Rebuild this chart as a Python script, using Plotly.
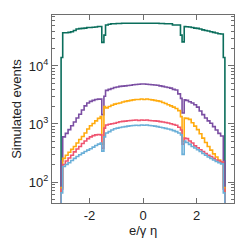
import plotly.graph_objects as go

# Bin edges in e/gamma eta
eta_edges = [-3.06, -3.0, -2.9, -2.8, -2.7, -2.6, -2.5, -2.4, -2.3, -2.2, -2.1, -2.0,
             -1.9, -1.8, -1.7, -1.6, -1.54, -1.46, -1.4, -1.3, -1.2, -1.1, -1.0, -0.9,
             -0.8, -0.7, -0.6, -0.5, -0.4, -0.3, -0.2, -0.1, 0.0, 0.1, 0.2, 0.3, 0.4,
             0.5, 0.6, 0.7, 0.8, 0.9, 1.0, 1.1, 1.2, 1.3, 1.4, 1.46, 1.54, 1.6, 1.7,
             1.8, 1.9, 2.0, 2.1, 2.2, 2.3, 2.4, 2.5, 2.6, 2.7, 2.8, 2.9, 3.0, 3.06]

green = [14000,
         37500, 37500, 38000, 39000, 41000, 43500, 44000, 44500, 45000, 46000, 46000, 46500, 47000, 48000,
         48000, 25500, 34000,
         51000, 52500, 53500, 53500, 54000, 54000, 54500, 54500, 54500, 54500, 54500, 54500, 54500, 54500,
         54500, 54500, 54500, 54500, 54500, 54500, 54000, 54000, 53500, 53500, 53500, 51000, 51000, 51000,
         34000, 26000, 48000,
         47500, 47000, 46000, 45000, 44500, 43500, 42000, 41000, 40000, 39000, 38000, 37000, 36000, 35500,
         14000]

purple = [230,
          600, 690, 800, 930, 1080, 1270, 1470, 1740, 2050, 2300, 2450, 2550, 2650, 2680,
          2700, 1450, 3000,
          3800, 3950, 4100, 4250, 4350, 4450, 4500, 4550, 4600, 4650, 4750, 4800, 4850, 4900,
          4900, 4850, 4800, 4750, 4700, 4650, 4550, 4450, 4350, 4250, 4150, 3950, 3850, 3300,
          2770, 1550, 2600,
          2550, 2420, 2300, 2150, 1950, 1680, 1450, 1270, 1130, 1030, 900, 790, 690, 620,
          230]

orange = [80,
          255, 290, 325, 365, 410, 470, 540, 610, 700, 820, 930, 1020, 1130, 1250,
          1340, 450, 2000,
          1900, 2000, 2100, 2200, 2250, 2300, 2400, 2450, 2500, 2550, 2600, 2650, 2650, 2700,
          2650, 2700, 2650, 2600, 2550, 2500, 2450, 2350, 2250, 2150, 2050, 1950, 1850, 1700,
          1340, 500, 1260,
          1250, 1200, 1050, 920, 800, 680, 570, 480, 410, 355, 305, 270, 240, 220,
          80]

red = [75,
       200, 230, 260, 290, 330, 370, 410, 460, 510, 560, 600, 630, 650, 660,
       650, 380, 850,
       960, 990, 1010, 1030, 1060, 1090, 1110, 1120, 1140, 1150, 1160, 1170, 1150, 1170,
       1160, 1170, 1150, 1140, 1130, 1120, 1100, 1080, 1060, 1040, 1010, 980, 950, 880,
       790, 450, 570,
       560, 510, 470, 420, 390, 360, 335, 310, 290, 275, 255, 240, 230, 220,
       75]

blue = [65,
        185, 200, 215, 235, 255, 275, 295, 315, 335, 355, 375, 400, 425, 450,
        470, 340, 600,
        700, 740, 790, 830, 850, 870, 890, 900, 920, 930, 940, 950, 940, 960,
        950, 960, 940, 930, 920, 900, 880, 860, 840, 820, 800, 770, 740, 700,
        650, 300, 510,
        480, 445, 410, 385, 360, 335, 310, 290, 270, 255, 240, 225, 215, 205,
        65]

series = [(green, "#0b6e5c"), (purple, "#7b4fa3"), (orange, "#ffab0f"),
          (red, "#ef5470"), (blue, "#6aafd8")]

fig = go.Figure()
floor_val = 1.0
for vals, col in series:
    xs = [eta_edges[0]] + list(eta_edges) + [eta_edges[-1]]
    ys = [floor_val] + list(vals) + [vals[-1], floor_val]
    fig.add_trace(go.Scatter(x=xs, y=ys, mode="lines", line=dict(color=col, width=1.6, shape="hv"),
                             showlegend=False, hoverinfo="skip"))

FONT = "Liberation Sans, Arial, sans-serif"
axis_common = dict(showline=True, linecolor="#6e6e6e", linewidth=1.2, mirror="ticks",
                   ticks="inside", tickcolor="#6e6e6e", showgrid=False, zeroline=False,
                   automargin=False,
                   tickfont=dict(family=FONT, size=13, color="#222"))

fig.update_xaxes(range=[-3.4, 3.4], tickvals=[-2, 0, 2], ticktext=["-2", "0", "2"], ticklen=5,
                 **axis_common)
fig.update_yaxes(type="log", range=[1.638, 4.879], tickvals=[100, 1000, 10000],
                 ticktext=["10<sup>2</sup>", "10<sup>3</sup>", "10<sup>4</sup>"], ticklen=6,
                 minor=dict(ticks="inside", ticklen=3, tickcolor="#6e6e6e",
                            tickvals=[50, 60, 70, 80, 90, 200, 300, 400, 500, 600, 700, 800, 900,
                                      2000, 3000, 4000, 5000, 6000, 7000, 8000, 9000,
                                      20000, 30000, 40000, 50000, 60000, 70000]),
                 title=dict(text="Simulated events", font=dict(family=FONT, size=13, color="#222"), standoff=4),
                 **axis_common)

fig.add_annotation(text="e/γ η", xref="paper", yref="paper", x=0.5, y=-0.145,
                   xanchor="center", yanchor="middle", showarrow=False,
                   font=dict(family=FONT, size=13, color="#222"))

# page body has an 8px margin, so the figure is sized/margined to put the plot area at 52..234 x 15..203
fig.update_layout(width=241, height=241, margin=dict(l=44, r=15, t=7, b=46),
                  plot_bgcolor="white", paper_bgcolor="white")
fig.write_html("out.html")
